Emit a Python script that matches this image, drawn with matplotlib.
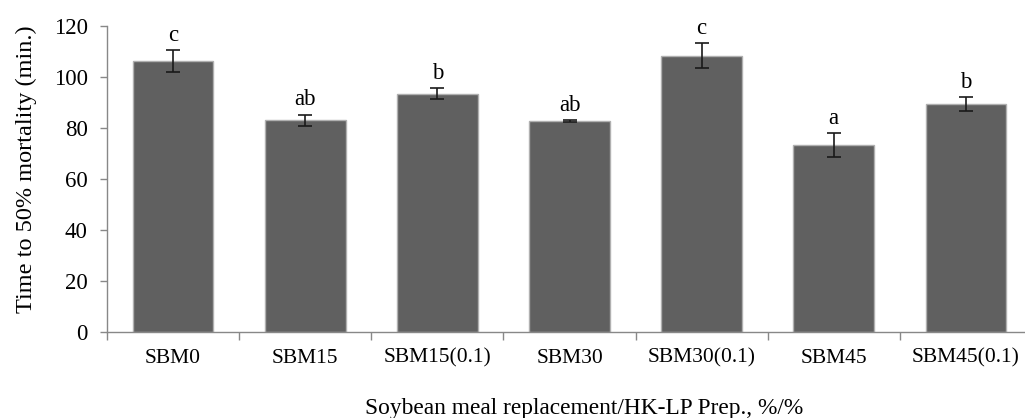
import numpy as np
import matplotlib
matplotlib.use('Agg')
import matplotlib.pyplot as plt
from matplotlib.ticker import MultipleLocator, FixedLocator

plt.rcParams['font.family'] = ['Liberation Serif', 'DejaVu Serif']

groups = ['SBM0', 'SBM15', 'SBM15(0.1)', 'SBM30', 'SBM30(0.1)', 'SBM45', 'SBM45(0.1)']
lt50 = [106.1, 83.0, 93.4, 82.6, 108.2, 73.3, 89.3]
sem = [4.2, 2.2, 2.2, 0.3, 4.9, 4.6, 2.6]
letters = ['c', 'ab', 'b', 'ab', 'c', 'a', 'b']

fig = plt.figure(figsize=(10.25, 4.18), dpi=100)
ax = fig.add_axes([107/1025, 1 - 332/418, 925/1025, (332 - 25.7)/418])

x = np.arange(len(groups))
ax.bar(x, lt50, width=0.61, color='#606060', edgecolor='#b0b0b0', linewidth=1.0, zorder=2)
ax.errorbar(x, lt50, yerr=sem, fmt='none', ecolor='#1a1a1a', elinewidth=1.2,
            capsize=5, capthick=1.2, zorder=3)

for xi, v, e, s in zip(x, lt50, sem, letters):
    ax.annotate(s, (xi, v + e), xytext=(0, 3), textcoords='offset points',
                ha='center', va='bottom', fontsize=16.5)

ax.set_xlim(-0.5, len(groups) - 0.5)
ax.set_ylim(0, 120)
ax.yaxis.set_major_locator(MultipleLocator(20))
ax.set_xticks(x)
ax.set_xticklabels(groups)
ax.xaxis.set_minor_locator(FixedLocator(np.arange(-0.5, len(groups), 1.0)))
ax.tick_params(axis='x', which='major', length=0, pad=12, labelsize=15.5)
ax.tick_params(axis='x', which='minor', length=6, color='#888888', width=1)
ax.tick_params(axis='y', length=5, color='#888888', width=1, labelsize=16.5, pad=9)

for side in ['top', 'right']:
    ax.spines[side].set_visible(False)
for side in ['left', 'bottom']:
    ax.spines[side].set_color('#888888')
    ax.spines[side].set_linewidth(1)

ax.set_ylabel('Time to 50% mortality (min.)', fontsize=17.5)
ax.yaxis.set_label_coords(-70/925, 0.532)
ax.set_xlabel('Soybean meal replacement/HK-LP Prep., %/%', fontsize=16.8)
ax.xaxis.set_label_coords((584 - 107)/925, -66/306.3)

plt.savefig('out.png', dpi=100)
